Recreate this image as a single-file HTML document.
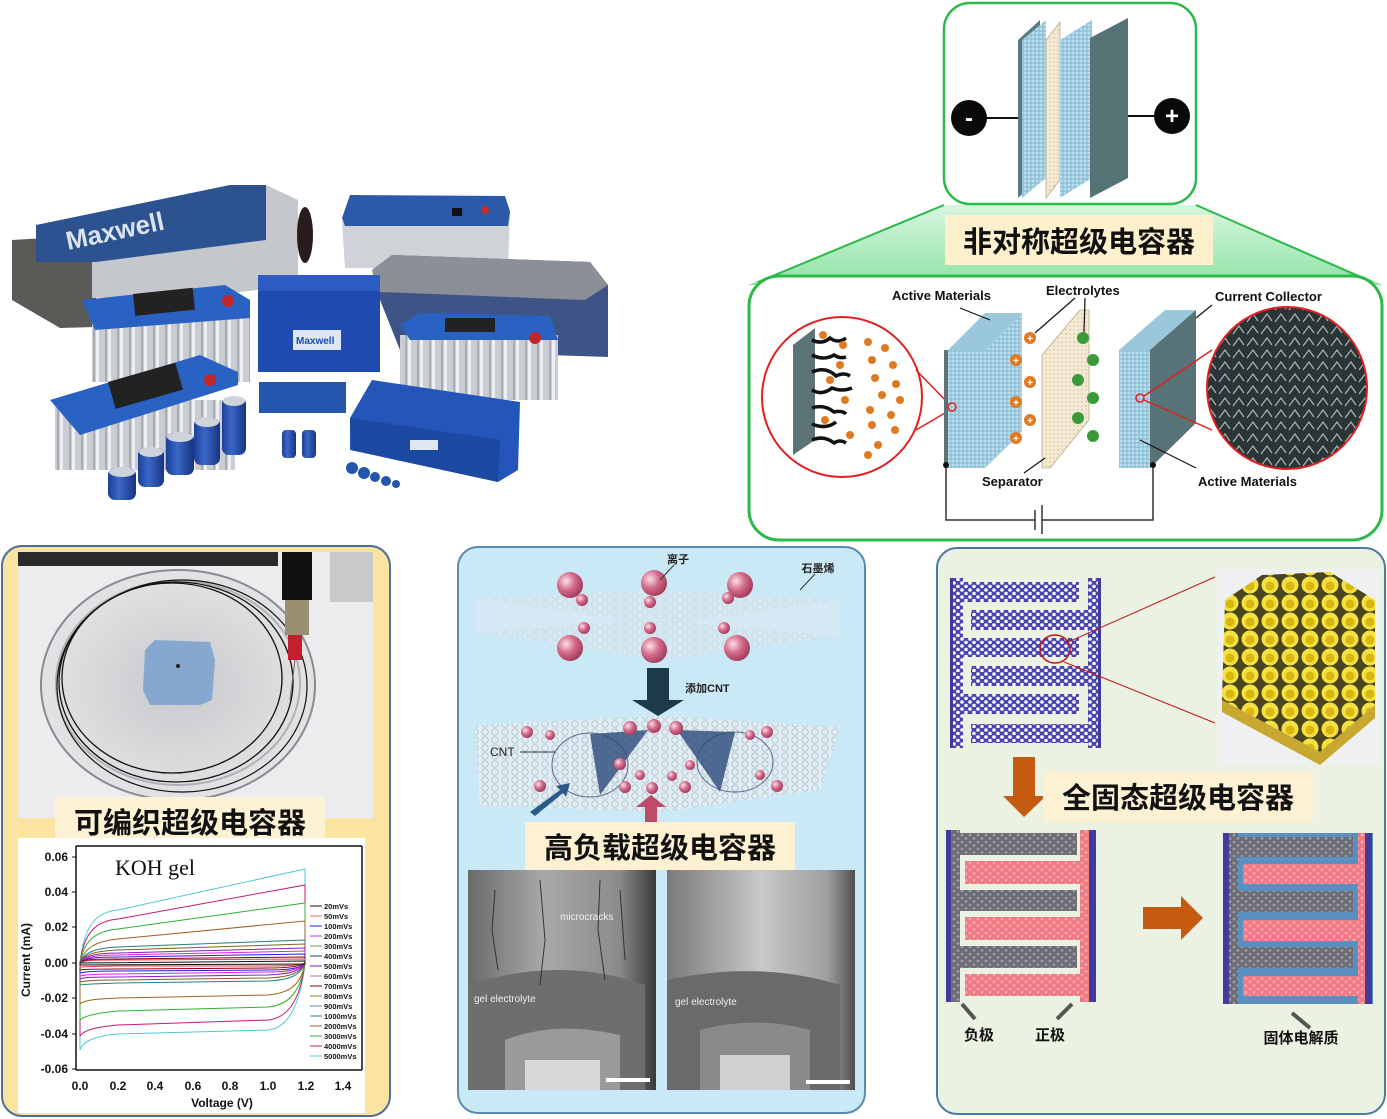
<!DOCTYPE html>
<html><head><meta charset="utf-8"><style>
html,body{margin:0;padding:0;background:#fff;}
svg{display:block;}
text{font-family:"Liberation Sans","Noto Sans CJK SC",sans-serif;}
.cn{font-family:"Liberation Sans","Noto Sans CJK SC",sans-serif;font-weight:bold;}
</style></head><body>
<svg width="1387" height="1119" viewBox="0 0 1387 1119" xmlns="http://www.w3.org/2000/svg">
<defs>
<pattern id="pBlue" width="8" height="7" patternUnits="userSpaceOnUse"><rect width="8" height="7" fill="#4a44b0"/><circle cx="2" cy="2" r="1.8" fill="#fff"/><circle cx="6" cy="5.5" r="1.8" fill="#fff"/></pattern>
<pattern id="pGray" width="8" height="7" patternUnits="userSpaceOnUse"><rect width="8" height="7" fill="#6c6c74"/><circle cx="2" cy="2" r="1.4" fill="#9a9aa2"/><circle cx="6" cy="5.5" r="1.4" fill="#9a9aa2"/></pattern>
<pattern id="pPink" width="8" height="7" patternUnits="userSpaceOnUse"><rect width="8" height="7" fill="#f07a84"/><circle cx="2" cy="2" r="1.4" fill="#f8a8b0"/><circle cx="6" cy="5.5" r="1.4" fill="#f8a8b0"/></pattern>
<pattern id="pDot" width="4" height="4" patternUnits="userSpaceOnUse"><rect width="4" height="4" fill="#9ccbe0"/><circle cx="1" cy="1" r="0.8" fill="#e4f3fa"/><circle cx="3" cy="3" r="0.6" fill="#6fa9c4"/></pattern>
<pattern id="pSep" width="4" height="4" patternUnits="userSpaceOnUse"><rect width="4" height="4" fill="#f4ead4"/><circle cx="2" cy="2" r="0.7" fill="#c8b898"/></pattern>
<pattern id="pLat" width="20" height="18" patternUnits="userSpaceOnUse"><rect width="20" height="18" fill="#4a4420"/><circle cx="10" cy="9" r="8.5" fill="#f4e040"/><circle cx="10" cy="10" r="4.5" fill="#d8b810"/></pattern>
<pattern id="pHex" width="10" height="8" patternUnits="userSpaceOnUse"><rect width="10" height="8" fill="none"/><circle cx="5" cy="4" r="3.2" fill="none" stroke="#aab8c0" stroke-width="0.7"/></pattern>
<pattern id="pSem" width="14" height="12" patternUnits="userSpaceOnUse"><rect width="14" height="12" fill="#2b3535"/><path d="M1 10 L7 2 L12 9" stroke="#a9b7b5" stroke-width="1.2" fill="none"/></pattern>
<pattern id="pRib" width="12" height="10" patternUnits="userSpaceOnUse"><rect width="12" height="10" fill="#c9ccd2"/><rect width="3" height="10" fill="#eef0f3"/><rect x="9" width="2" height="10" fill="#a9adb4"/></pattern>
<linearGradient id="gGreen" x1="0" y1="0" x2="0" y2="1"><stop offset="0" stop-color="#d8f6df"/><stop offset="1" stop-color="#8fe3a6"/></linearGradient>
<linearGradient id="gSem1" x1="0" y1="0" x2="1" y2="0"><stop offset="0" stop-color="#6a6a6a"/><stop offset="0.4" stop-color="#a8a8a8"/><stop offset="0.8" stop-color="#8c8c8c"/><stop offset="1" stop-color="#3a3a3a"/></linearGradient>
<linearGradient id="gSem2" x1="0" y1="0" x2="1" y2="0"><stop offset="0" stop-color="#7a7a7a"/><stop offset="0.5" stop-color="#c8c8c8"/><stop offset="0.85" stop-color="#a0a0a0"/><stop offset="1" stop-color="#505050"/></linearGradient>
<radialGradient id="gBall" cx="0.35" cy="0.35" r="0.7"><stop offset="0" stop-color="#fbe0e8"/><stop offset="0.5" stop-color="#d46a8a"/><stop offset="1" stop-color="#a03a5a"/></radialGradient>
<radialGradient id="gDish" cx="0.5" cy="0.5" r="0.55"><stop offset="0" stop-color="#c8c8cc"/><stop offset="1" stop-color="#e6e6e8"/></radialGradient>
<linearGradient id="gCyl" x1="0" y1="0" x2="1" y2="0"><stop offset="0" stop-color="#1c3f96"/><stop offset="0.4" stop-color="#3a68c8"/><stop offset="1" stop-color="#173480"/></linearGradient>
</defs>

<!-- ===== Top-left product photo (approximation) ===== -->
<g>
<!-- big unit -->
<polygon points="12,240 96,235 96,327 60,328 12,300" fill="#5c5a56"/>
<polygon points="92,230 266,185 298,200 298,285 240,292 92,298" fill="#c4c7cc"/>
<polygon points="36,225 230,185 266,185 266,240 96,262 36,262" fill="#2c5390"/>
<text x="68" y="250" font-size="26" font-weight="bold" fill="#dbe3f0" transform="rotate(-12 68 250)">Maxwell</text>
<ellipse cx="305" cy="235" rx="8" ry="28" fill="#2a1c1c"/>
<!-- top right box -->
<polygon points="342,223 350,195 505,196 510,210 508,268 345,268" fill="#cfd2d7"/>
<polygon points="342,218 350,195 505,196 510,212 508,226 345,226" fill="#2d5aa8"/>
<rect x="452" y="208" width="10" height="8" fill="#111"/>
<circle cx="485" cy="210" r="4" fill="#c03030"/>
<!-- gray long box -->
<polygon points="372,270 392,255 590,262 608,285 608,357 400,350 380,300" fill="#3e5486"/>
<polygon points="372,270 392,255 590,262 608,285 585,300 380,292" fill="#8a8f98"/>
<!-- blue center box -->
<rect x="258" y="275" width="122" height="97" fill="#1f4bb0"/>
<rect x="258" y="275" width="122" height="16" fill="#2c5cc2"/>
<rect x="293" y="330" width="48" height="20" fill="#dfe6f4"/>
<text x="296" y="344" font-size="10" font-weight="bold" fill="#1f4bb0">Maxwell</text>
<!-- left upper module -->
<rect x="92" y="312" width="158" height="70" fill="url(#pRib)"/>
<polygon points="82,300 225,285 250,300 250,318 95,330" fill="#2a62c4"/>
<rect x="133" y="294" width="60" height="22" fill="#222" transform="rotate(-6 133 294)"/>
<circle cx="228" cy="301" r="6" fill="#c02828"/>
<!-- right module -->
<rect x="400" y="335" width="158" height="65" fill="url(#pRib)"/>
<polygon points="400,325 420,313 550,316 558,340 410,340" fill="#2a62c4"/>
<rect x="445" y="318" width="50" height="14" fill="#222"/>
<circle cx="535" cy="338" r="6" fill="#c02828"/>
<!-- bottom-left module -->
<rect x="55" y="400" width="180" height="70" fill="url(#pRib)"/>
<polygon points="50,400 200,355 238,372 238,385 80,435" fill="#2a62c4"/>
<rect x="108" y="382" width="70" height="28" fill="#222" transform="rotate(-16 108 382)"/>
<circle cx="210" cy="380" r="6" fill="#c02828"/>
<!-- flat blue box -->
<polygon points="350,418 372,380 520,402 518,470 498,482 350,450" fill="#2356b8"/>
<polygon points="350,418 352,450 498,482 500,440" fill="#1b48a0"/>
<rect x="410" y="440" width="28" height="10" fill="#dfe6f4"/>
<!-- small block -->
<rect x="259" y="382" width="87" height="31" fill="#2456b0"/>
<!-- cylinders -->
<rect x="222" y="397" width="24" height="58" rx="7" fill="url(#gCyl)"/>
<rect x="194" y="418" width="26" height="47" rx="7" fill="url(#gCyl)"/>
<rect x="166" y="433" width="28" height="42" rx="7" fill="url(#gCyl)"/>
<rect x="138" y="448" width="26" height="39" rx="7" fill="url(#gCyl)"/>
<rect x="108" y="468" width="28" height="32" rx="7" fill="url(#gCyl)"/>
<ellipse cx="122" cy="472" rx="13" ry="5" fill="#cfd3da"/>
<ellipse cx="151" cy="452" rx="12" ry="5" fill="#cfd3da"/>
<ellipse cx="180" cy="437" rx="13" ry="5" fill="#cfd3da"/>
<ellipse cx="207" cy="422" rx="12" ry="5" fill="#cfd3da"/>
<ellipse cx="234" cy="401" rx="11" ry="5" fill="#cfd3da"/>
<rect x="282" y="430" width="14" height="28" rx="4" fill="url(#gCyl)"/>
<rect x="302" y="430" width="14" height="28" rx="4" fill="url(#gCyl)"/>
<g fill="#2456b0"><circle cx="352" cy="468" r="6"/><circle cx="364" cy="473" r="6"/><circle cx="375" cy="477" r="5"/><circle cx="386" cy="481" r="5"/><circle cx="396" cy="484" r="4"/></g>
</g>

<!-- ===== Top right small electrode box ===== -->
<polygon points="944,205 1196,205 1383,285 748,285" fill="url(#gGreen)"/>
<line x1="944" y1="205" x2="758" y2="282" stroke="#2db84a" stroke-width="2"/>
<line x1="1196" y1="205" x2="1372" y2="282" stroke="#2db84a" stroke-width="2"/>
<rect x="944" y="3" width="252" height="201" rx="26" fill="#fff" stroke="#2db84a" stroke-width="2.5"/>
<line x1="969" y1="118" x2="1022" y2="118" stroke="#111" stroke-width="2"/>
<line x1="1105" y1="116" x2="1172" y2="116" stroke="#111" stroke-width="2"/>
<polygon points="1018,40 1040,20 1040,178 1018,198" fill="#587a80"/>
<polygon points="1022,40 1046,20 1046,178 1022,198" fill="url(#pDot)"/>
<polygon points="1046,40 1060,22 1060,180 1046,198" fill="url(#pSep)" stroke="#b8a88a" stroke-width="0.8"/>
<polygon points="1060,40 1092,20 1092,178 1060,198" fill="url(#pDot)"/>
<polygon points="1090,38 1128,18 1128,178 1090,198" fill="#557275"/>
<circle cx="969" cy="118" r="18" fill="#0a0a0a"/>
<text x="969" y="126" font-size="24" font-weight="bold" fill="#fff" text-anchor="middle">-</text>
<circle cx="1172" cy="116" r="18" fill="#0a0a0a"/>
<text x="1172" y="124" font-size="24" font-weight="bold" fill="#fff" text-anchor="middle">+</text>

<!-- big asymmetric box -->
<rect x="749" y="276" width="633" height="264" rx="30" fill="#fff" stroke="#2db84a" stroke-width="3"/>
<rect x="945" y="215" width="268" height="50" fill="#fdf0cd"/>
<text x="1079" y="252" class="cn" font-size="29" text-anchor="middle" fill="#111">非对称超级电容器</text>

<circle cx="842" cy="397" r="80" fill="#fff" stroke="#e02020" stroke-width="2"/>
<polygon points="793,345 815,328 815,440 793,455" fill="#5d7476"/>
<g stroke="#111" stroke-width="3.5" fill="none">
<path d="M812 340 q10 5 18 -2 q8 6 16 0"/><path d="M812 355 q12 6 22 0 q6 4 12 2"/><path d="M812 372 q14 -6 24 4 q8 -4 14 0"/><path d="M812 390 q10 6 20 -2 q10 4 20 0"/><path d="M812 408 q12 -4 22 4 q8 -2 12 2"/><path d="M812 424 q14 6 24 -2"/><path d="M812 440 q12 -5 22 3 q6 -4 12 0"/>
</g>
<g fill="#e07a20">
<circle cx="823" cy="335" r="4"/><circle cx="843" cy="345" r="4"/><circle cx="868" cy="342" r="4"/><circle cx="885" cy="348" r="4"/><circle cx="872" cy="360" r="4"/><circle cx="893" cy="365" r="4"/><circle cx="875" cy="378" r="4"/><circle cx="896" cy="384" r="4"/><circle cx="882" cy="395" r="4"/><circle cx="900" cy="400" r="4"/><circle cx="870" cy="410" r="4"/><circle cx="891" cy="415" r="4"/><circle cx="872" cy="425" r="4"/><circle cx="895" cy="430" r="4"/><circle cx="878" cy="445" r="4"/><circle cx="868" cy="455" r="4"/><circle cx="830" cy="380" r="4"/><circle cx="845" cy="400" r="4"/><circle cx="825" cy="420" r="4"/><circle cx="850" cy="435" r="4"/><circle cx="840" cy="365" r="4"/>
</g>
<line x1="916" y1="370" x2="950" y2="405" stroke="#e02020" stroke-width="1.5"/>
<line x1="916" y1="430" x2="950" y2="410" stroke="#e02020" stroke-width="1.5"/>
<rect x="944" y="350" width="4" height="118" fill="#5d7476"/>
<polygon points="948,350 985,350 1022,313 985,313" fill="#9bc7da"/>
<rect x="948" y="350" width="37" height="118" fill="url(#pDot)"/>
<polygon points="985,350 1022,313 1022,432 985,468" fill="url(#pDot)"/>
<circle cx="952" cy="407" r="4" fill="none" stroke="#e02020" stroke-width="1.5"/>
<g fill="#e07a20"><circle cx="1030" cy="338" r="6"/><circle cx="1016" cy="360" r="6"/><circle cx="1030" cy="382" r="6"/><circle cx="1016" cy="402" r="6"/><circle cx="1030" cy="420" r="6"/><circle cx="1016" cy="438" r="6"/></g>
<g fill="#fff" font-size="10" font-weight="bold" text-anchor="middle"><text x="1030" y="342">+</text><text x="1016" y="364">+</text><text x="1030" y="386">+</text><text x="1016" y="406">+</text><text x="1030" y="424">+</text><text x="1016" y="442">+</text></g>
<polygon points="1042,355 1080,310 1089,310 1089,420 1050,468 1042,468" fill="url(#pSep)" stroke="#b8a88a" stroke-width="0.8"/>
<g fill="#3a9a3a"><circle cx="1083" cy="338" r="6"/><circle cx="1093" cy="360" r="6"/><circle cx="1078" cy="380" r="6"/><circle cx="1093" cy="398" r="6"/><circle cx="1078" cy="418" r="6"/><circle cx="1093" cy="436" r="6"/></g>
<polygon points="1119,350 1150,350 1196,310 1165,310" fill="#9bc7da"/>
<rect x="1119" y="350" width="31" height="118" fill="url(#pDot)"/>
<polygon points="1150,350 1196,310 1196,423 1150,468" fill="#587377"/>
<circle cx="1140" cy="398" r="4" fill="none" stroke="#e02020" stroke-width="1.5"/>
<line x1="1144" y1="396" x2="1212" y2="350" stroke="#e02020" stroke-width="1.5"/>
<line x1="1144" y1="400" x2="1212" y2="430" stroke="#e02020" stroke-width="1.5"/>
<ellipse cx="1287" cy="388" rx="80" ry="81" fill="url(#pSem)" stroke="#e02020" stroke-width="2"/>
<g stroke="#111" stroke-width="1.2"><line x1="960" y1="308" x2="990" y2="320"/><line x1="1075" y1="298" x2="1035" y2="333"/><line x1="1085" y1="298" x2="1084" y2="332"/><line x1="1212" y1="305" x2="1196" y2="318"/><line x1="1024" y1="473" x2="1045" y2="458"/><line x1="1140" y1="440" x2="1196" y2="468"/></g>
<g font-size="13" font-weight="bold" fill="#111"><text x="892" y="300">Active Materials</text><text x="1046" y="295">Electrolytes</text><text x="1215" y="301">Current Collector</text><text x="982" y="486">Separator</text><text x="1198" y="486">Active Materials</text></g>
<polyline points="946,465 946,520 1035,520" fill="none" stroke="#333" stroke-width="1.5"/>
<polyline points="1042,520 1153,520 1153,465" fill="none" stroke="#333" stroke-width="1.5"/>
<line x1="1035" y1="510" x2="1035" y2="530" stroke="#333" stroke-width="1.5"/><line x1="1042" y1="505" x2="1042" y2="534" stroke="#333" stroke-width="1.5"/>
<circle cx="946" cy="465" r="3" fill="#111"/><circle cx="1153" cy="465" r="3" fill="#111"/>

<!-- ===== Bottom-left panel ===== -->
<rect x="2" y="546" width="388" height="570" rx="20" fill="#fbe3a2" stroke="#4d6f95" stroke-width="2"/>
<rect x="18" y="552" width="355" height="266" fill="#ececee"/>
<rect x="18" y="552" width="260" height="14" fill="#2a2a2a"/>
<rect x="330" y="552" width="43" height="50" fill="#c9c9cc"/>
<ellipse cx="178" cy="685" rx="137" ry="115" fill="url(#gDish)" stroke="#8a8a90" stroke-width="2"/>
<ellipse cx="178" cy="683" rx="122" ry="102" fill="none" stroke="#b0b0b6" stroke-width="2"/>
<ellipse cx="172" cy="678" rx="110" ry="95" fill="none" stroke="#111" stroke-width="1.3"/>
<ellipse cx="176" cy="682" rx="117" ry="100" fill="none" stroke="#111" stroke-width="1.3"/>
<ellipse cx="182" cy="686" rx="125" ry="106" fill="none" stroke="#111" stroke-width="1.2"/>
<polygon points="145,650 155,640 210,642 215,660 212,700 200,705 150,705 143,690" fill="#86a8d0"/>
<circle cx="178" cy="666" r="2" fill="#222"/>
<rect x="282" y="552" width="30" height="48" fill="#111"/>
<rect x="285" y="600" width="24" height="35" fill="#9a9070"/>
<rect x="288" y="635" width="14" height="25" fill="#c02030"/>
<line x1="295" y1="660" x2="290" y2="700" stroke="#666" stroke-width="1"/>
<rect x="55" y="797" width="270" height="48" fill="#fdf2d3"/>
<text x="190" y="833" class="cn" font-size="29" text-anchor="middle" fill="#111">可编织超级电容器</text>
<rect x="18" y="838" width="347" height="275" fill="#fff"/>
<g stroke="#111" stroke-width="1.5" fill="none"><line x1="76" y1="846" x2="76" y2="1070"/><line x1="76" y1="1070" x2="362" y2="1070"/><line x1="362" y1="846" x2="362" y2="1070"/><line x1="76" y1="846" x2="362" y2="846"/></g>
<g stroke="#111" stroke-width="1"><line x1="72" y1="857" x2="76" y2="857"/><line x1="72" y1="892" x2="76" y2="892"/><line x1="72" y1="927" x2="76" y2="927"/><line x1="72" y1="963" x2="76" y2="963"/><line x1="72" y1="998" x2="76" y2="998"/><line x1="72" y1="1034" x2="76" y2="1034"/><line x1="72" y1="1069" x2="76" y2="1069"/></g>
<g font-size="12" font-weight="bold" fill="#111" text-anchor="end"><text x="68" y="861">0.06</text><text x="68" y="896">0.04</text><text x="68" y="931">0.02</text><text x="68" y="967">0.00</text><text x="68" y="1002">-0.02</text><text x="68" y="1038">-0.04</text><text x="68" y="1073">-0.06</text></g>
<g font-size="12" font-weight="bold" fill="#111" text-anchor="middle"><text x="80" y="1090">0.0</text><text x="118" y="1090">0.2</text><text x="155" y="1090">0.4</text><text x="193" y="1090">0.6</text><text x="230" y="1090">0.8</text><text x="268" y="1090">1.0</text><text x="306" y="1090">1.2</text><text x="343" y="1090">1.4</text><text x="222" y="1107">Voltage (V)</text></g>
<text x="30" y="960" font-size="12" font-weight="bold" fill="#111" text-anchor="middle" transform="rotate(-90 30 960)">Current (mA)</text>
<text x="115" y="875" font-size="22" fill="#111" style="font-family:'Liberation Serif',serif">KOH gel</text>
<g fill="none" stroke-width="1">
<path d="M80,963 C84,925 96,912 118,910 L305,869 L305,963 C301,1000 290,1028 268,1030 L118,1034 C96,1036 84,1040 80,1050 Z" stroke="#4fc8d8"/>
<path d="M80,963 C84,932 96,921 118,919 L305,885 L305,963 C301,995 290,1018 268,1020 L118,1025 C96,1027 84,1030 80,1036 Z" stroke="#c8186e"/>
<path d="M80,963 C84,940 96,931 118,929 L305,903 L305,963 C301,990 290,1005 268,1007 L118,1011 C96,1013 84,1016 80,1020 Z" stroke="#30b030"/>
<path d="M80,963 C84,948 96,941 118,939 L305,921 L305,963 C301,985 290,993 268,995 L118,998 C96,999 84,1000 80,1004 Z" stroke="#a06020"/>
<path d="M80,963 C84,952 96,948 118,947 L305,940 L305,963 C301,975 290,980 268,981 L118,983 C96,984 84,984 80,985 Z" stroke="#208080"/>
<path d="M80,963 C84,954 96,951 118,950 L305,944 L305,963 C301,973 290,977 268,978 L118,980 C96,980 84,981 80,982 Z" stroke="#806020"/>
<path d="M80,963 C84,956 96,953 118,953 L305,948 L305,963 C301,971 290,974 268,975 L118,977 C96,977 84,977 80,979 Z" stroke="#8020c0"/>
<path d="M80,963 C84,957 96,955 118,955 L305,951 L305,963 C301,969 290,972 268,972 L118,974 C96,974 84,975 80,976 Z" stroke="#e020e0"/>
<path d="M80,963 C84,958 96,957 118,957 L305,954 L305,963 C301,968 290,970 268,970 L118,971 C96,971 84,972 80,973 Z" stroke="#2020e0"/>
<path d="M80,963 C84,959 96,959 118,959 L305,957 L305,963 C301,966 290,968 268,968 L118,969 C96,969 84,969 80,970 Z" stroke="#900010"/>
<path d="M80,963 C84,960 96,960 118,960 L305,959 L305,963 C301,965 290,966 268,966 L118,966 C96,966 84,967 80,967 Z" stroke="#e04040"/>
<path d="M80,963 L305,961 L305,964 L80,965 Z" stroke="#111"/>
</g>
<g font-size="7.5" font-weight="bold" fill="#111">
<line x1="310" y1="906" x2="322" y2="906" stroke="#111"/><text x="324" y="909">20mVs</text>
<line x1="310" y1="916" x2="322" y2="916" stroke="#f06060"/><text x="324" y="919">50mVs</text>
<line x1="310" y1="926" x2="322" y2="926" stroke="#2020e0"/><text x="324" y="929">100mVs</text>
<line x1="310" y1="936" x2="322" y2="936" stroke="#e020e0"/><text x="324" y="939">200mVs</text>
<line x1="310" y1="946" x2="322" y2="946" stroke="#60a060"/><text x="324" y="949">300mVs</text>
<line x1="310" y1="956" x2="322" y2="956" stroke="#303080"/><text x="324" y="959">400mVs</text>
<line x1="310" y1="966" x2="322" y2="966" stroke="#8020c0"/><text x="324" y="969">500mVs</text>
<line x1="310" y1="976" x2="322" y2="976" stroke="#b070c0"/><text x="324" y="979">600mVs</text>
<line x1="310" y1="986" x2="322" y2="986" stroke="#900010"/><text x="324" y="989">700mVs</text>
<line x1="310" y1="996" x2="322" y2="996" stroke="#808020"/><text x="324" y="999">800mVs</text>
<line x1="310" y1="1006" x2="322" y2="1006" stroke="#6080b0"/><text x="324" y="1009">900mVs</text>
<line x1="310" y1="1016" x2="322" y2="1016" stroke="#208080"/><text x="324" y="1019">1000mVs</text>
<line x1="310" y1="1026" x2="322" y2="1026" stroke="#a06020"/><text x="324" y="1029">2000mVs</text>
<line x1="310" y1="1036" x2="322" y2="1036" stroke="#30b030"/><text x="324" y="1039">3000mVs</text>
<line x1="310" y1="1046" x2="322" y2="1046" stroke="#c8186e"/><text x="324" y="1049">4000mVs</text>
<line x1="310" y1="1056" x2="322" y2="1056" stroke="#4fc8d8"/><text x="324" y="1059">5000mVs</text>
</g>

<!-- ===== Bottom-middle panel ===== -->
<rect x="458" y="547" width="407" height="566" rx="20" fill="#c9e9f7" stroke="#5b8ab0" stroke-width="2"/>
<polygon points="475,598 660,590 840,600 660,625" fill="url(#pHex)" opacity="0.9"/>
<polygon points="475,632 660,620 840,636 660,660" fill="url(#pHex)" opacity="0.9"/>
<polygon points="475,598 660,590 840,600 840,636 660,660 475,632" fill="#dfeaf0" opacity="0.5"/>
<g fill="url(#gBall)"><circle cx="570" cy="585" r="13"/><circle cx="654" cy="583" r="13"/><circle cx="740" cy="585" r="13"/><circle cx="570" cy="648" r="13"/><circle cx="654" cy="650" r="13"/><circle cx="737" cy="648" r="13"/><circle cx="582" cy="600" r="6"/><circle cx="650" cy="602" r="6"/><circle cx="728" cy="598" r="6"/><circle cx="584" cy="628" r="6"/><circle cx="650" cy="628" r="6"/><circle cx="724" cy="628" r="6"/></g>
<text x="678" y="563" class="cn" font-size="11" text-anchor="middle" fill="#222">离子</text>
<text x="818" y="572" class="cn" font-size="11" text-anchor="middle" fill="#222">石墨烯</text>
<line x1="674" y1="565" x2="660" y2="580" stroke="#333"/><line x1="815" y1="574" x2="800" y2="590" stroke="#333"/>
<rect x="647" y="668" width="22" height="32" fill="#1c3a48"/>
<polygon points="632,700 684,700 658,716" fill="#1c3a48"/>
<text x="685" y="692" class="cn" font-size="11" fill="#222">添加CNT</text>
<polygon points="475,725 660,716 840,727 820,790 660,812 480,805" fill="#e6eef2" opacity="0.8"/>
<polygon points="475,725 660,716 840,727 820,790 660,812 480,805" fill="url(#pHex)"/>
<ellipse cx="590" cy="765" rx="38" ry="32" fill="url(#pHex)" stroke="#5b6b8c"/>
<polygon points="590,734 648,730 600,795" fill="#2c4a7a" opacity="0.8"/>
<ellipse cx="735" cy="762" rx="38" ry="30" fill="url(#pHex)" stroke="#5b6b8c"/>
<polygon points="735,732 677,730 720,792" fill="#2c4a7a" opacity="0.8"/>
<g fill="url(#gBall)"><circle cx="527" cy="732" r="6"/><circle cx="550" cy="735" r="5"/><circle cx="630" cy="728" r="7"/><circle cx="654" cy="726" r="7"/><circle cx="676" cy="728" r="7"/><circle cx="750" cy="735" r="5"/><circle cx="767" cy="732" r="6"/><circle cx="620" cy="764" r="6"/><circle cx="640" cy="775" r="5"/><circle cx="672" cy="776" r="5"/><circle cx="690" cy="765" r="5"/><circle cx="625" cy="787" r="6"/><circle cx="652" cy="788" r="6"/><circle cx="685" cy="787" r="6"/><circle cx="540" cy="786" r="6"/><circle cx="777" cy="786" r="6"/><circle cx="760" cy="775" r="5"/></g>
<text x="490" y="756" font-size="12" fill="#222">CNT</text>
<line x1="520" y1="752" x2="555" y2="752" stroke="#333"/>
<polygon points="530,812 560,790 556,786 570,783 566,797 563,793 535,816" fill="#2c5a8a"/>
<rect x="645" y="805" width="12" height="20" fill="#c04a6a"/>
<polygon points="636,807 666,807 651,795" fill="#c04a6a"/>
<rect x="525" y="822" width="270" height="48" fill="#fdf1d1"/>
<text x="660" y="858" class="cn" font-size="29" text-anchor="middle" fill="#111">高负载超级电容器</text>
<rect x="468" y="870" width="188" height="220" fill="url(#gSem1)"/>
<path d="M468 985 Q560 955 645 985 L645 1090 L468 1090 Z" fill="#6e6e6e"/>
<path d="M505 1040 Q555 1020 620 1035 L620 1090 L505 1090 Z" fill="#9a9a9a"/>
<rect x="525" y="1060" width="75" height="30" fill="#d8d8d8"/>
<g stroke="#333" stroke-width="1" fill="none"><path d="M495 890 L492 930 L498 970"/><path d="M540 880 L545 940 L540 985"/><path d="M600 880 L598 930 L605 980"/><path d="M620 890 L625 960"/></g>
<text x="560" y="920" font-size="10" fill="#eee">microcracks</text>
<text x="474" y="1002" font-size="10" fill="#eee">gel electrolyte</text>
<rect x="606" y="1078" width="44" height="4" fill="#fff"/>
<rect x="667" y="870" width="188" height="220" fill="url(#gSem2)"/>
<path d="M667 980 Q760 960 840 985 L840 1090 L667 1090 Z" fill="#6a6a6a"/>
<path d="M700 1030 Q755 1015 810 1030 L810 1090 L700 1090 Z" fill="#8a8a8a"/>
<rect x="720" y="1055" width="70" height="35" fill="#d0d0d0"/>
<text x="675" y="1005" font-size="10" fill="#eee">gel electrolyte</text>
<rect x="806" y="1080" width="44" height="4" fill="#fff"/>

<!-- ===== Bottom-right panel ===== -->
<rect x="937" y="548" width="448" height="566" rx="20" fill="#ebf2e2" stroke="#4d7aa0" stroke-width="2"/>
<rect x="950" y="578" width="13" height="170" fill="url(#pBlue)"/>
<rect x="1088" y="578" width="13" height="170" fill="url(#pBlue)"/>
<rect x="950" y="578" width="3" height="170" fill="#3f3c9c"/><rect x="1098" y="578" width="3" height="170" fill="#3f3c9c"/>
<rect x="963" y="582" width="116" height="20" fill="url(#pBlue)"/>
<rect x="971" y="610" width="117" height="20" fill="url(#pBlue)"/>
<rect x="963" y="638" width="116" height="19" fill="url(#pBlue)"/>
<rect x="971" y="666" width="117" height="20" fill="url(#pBlue)"/>
<rect x="963" y="694" width="116" height="20" fill="url(#pBlue)"/>
<rect x="971" y="724" width="117" height="19" fill="url(#pBlue)"/>
<ellipse cx="1055" cy="649" rx="15" ry="14" fill="none" stroke="#c01818" stroke-width="1.5"/>
<line x1="1068" y1="642" x2="1215" y2="577" stroke="#c01818" stroke-width="1"/>
<line x1="1064" y1="662" x2="1215" y2="723" stroke="#c01818" stroke-width="1"/>
<rect x="1217" y="569" width="163" height="195" fill="#eef0f2"/>
<polygon points="1225,600 1262,575 1330,572 1375,600 1375,705 1320,752 1222,700" fill="url(#pLat)"/>
<polygon points="1222,700 1320,752 1375,705 1375,718 1320,765 1222,712" fill="#c8a830"/>
<rect x="1013" y="757" width="22" height="40" fill="#c55a11"/>
<polygon points="1003,796 1046,796 1024,817" fill="#c55a11"/>
<rect x="1043" y="771" width="270" height="51" fill="#fdf1d3"/>
<text x="1178" y="808" class="cn" font-size="29" text-anchor="middle" fill="#111">全固态超级电容器</text>
<rect x="946" y="830" width="5" height="172" fill="#3f3c9c"/>
<rect x="951" y="830" width="9" height="172" fill="url(#pGray)"/>
<rect x="960" y="833" width="117" height="22" fill="url(#pGray)"/>
<rect x="960" y="890" width="117" height="21" fill="url(#pGray)"/>
<rect x="960" y="946" width="117" height="22" fill="url(#pGray)"/>
<rect x="965" y="861" width="118" height="23" fill="url(#pPink)"/>
<rect x="965" y="917" width="118" height="23" fill="url(#pPink)"/>
<rect x="965" y="974" width="118" height="22" fill="url(#pPink)"/>
<rect x="1080" y="830" width="9" height="172" fill="url(#pPink)"/>
<rect x="1089" y="830" width="7" height="172" fill="#3f3c9c"/>
<line x1="962" y1="1004" x2="975" y2="1019" stroke="#555" stroke-width="4"/>
<line x1="1072" y1="1004" x2="1057" y2="1019" stroke="#555" stroke-width="4"/>
<text x="979" y="1040" class="cn" font-size="15" text-anchor="middle" fill="#111">负极</text>
<text x="1050" y="1040" class="cn" font-size="15" text-anchor="middle" fill="#111">正极</text>
<rect x="1143" y="907" width="38" height="22" fill="#c55a11"/>
<polygon points="1181,896 1203,918 1181,940" fill="#c55a11"/>
<rect x="1223" y="833" width="150" height="171" fill="#5b8fc0"/>
<rect x="1223" y="833" width="6" height="171" fill="#3f3c9c"/>
<rect x="1229" y="833" width="9" height="171" fill="url(#pGray)"/>
<rect x="1238" y="837" width="115" height="20" fill="url(#pGray)"/>
<rect x="1238" y="891" width="115" height="21" fill="url(#pGray)"/>
<rect x="1238" y="947" width="115" height="21" fill="url(#pGray)"/>
<rect x="1243" y="864" width="115" height="20" fill="url(#pPink)"/>
<rect x="1243" y="920" width="115" height="21" fill="url(#pPink)"/>
<rect x="1243" y="976" width="115" height="20" fill="url(#pPink)"/>
<rect x="1358" y="833" width="7" height="171" fill="url(#pPink)"/>
<rect x="1365" y="833" width="7" height="171" fill="#3f3c9c"/>
<line x1="1292" y1="1013" x2="1310" y2="1028" stroke="#555" stroke-width="4"/>
<text x="1301" y="1043" class="cn" font-size="15" text-anchor="middle" fill="#111">固体电解质</text>
</svg>
</body></html>
